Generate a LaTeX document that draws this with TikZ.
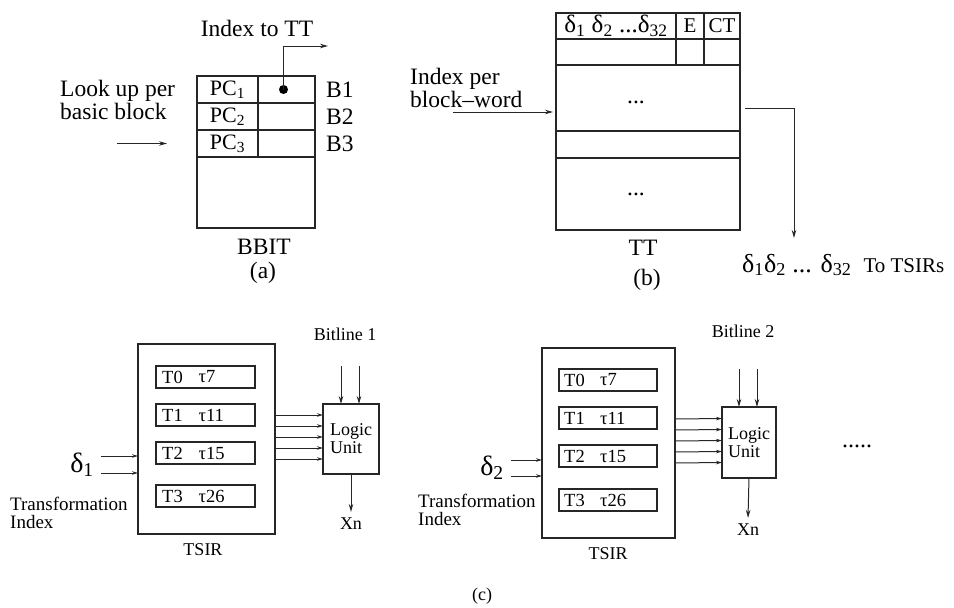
\documentclass[tikz,border=0pt]{standalone}
\usepackage{fontspec}
\setmainfont{Liberation Serif}
\usetikzlibrary{positioning, arrows.meta}

\newcommand{\fsz}[1]{\fontsize{#1}{#1}\selectfont}
\newcommand{\dsub}[1]{δ\textsubscript{#1}}

\begin{document}
\begin{tikzpicture}[x=1pt, y=-1pt,
    cell/.style={draw=black!85, line width=1.2pt, inner sep=0pt, outer sep=0pt},
    txt/.style={inner sep=0pt, font=\fsz{23.5}},
    lab/.style={inner sep=0pt, font=\fsz{18}},
    entry/.style={cell, minimum width=99pt, minimum height=22pt},
    wire/.style={draw=black!85, line width=1pt, -{Stealth[length=8pt, width=4.5pt]}},
    bus/.style={draw=black!85, line width=1pt, -{Stealth[length=6pt, width=3.5pt]}}]
  \useasboundingbox (0,0) rectangle (954,608);

  % (a) BBIT
  \node[cell, minimum width=118pt, minimum height=152pt] (bbit) at (256,152) {};
  \node[cell, minimum width=61pt, minimum height=27pt, font=\fsz{22}] (pc1) at (227.5,89.5) {PC\textsubscript{1}};
  \node[cell, minimum width=57pt, minimum height=27pt, right=0pt of pc1] (ptr1) {};
  \node[cell, minimum width=61pt, minimum height=27pt, font=\fsz{22}, below=0pt of pc1] (pc2) {PC\textsubscript{2}};
  \node[cell, minimum width=57pt, minimum height=27pt, right=0pt of pc2] (ptr2) {};
  \node[cell, minimum width=61pt, minimum height=27pt, font=\fsz{22}, below=0pt of pc2] (pc3) {PC\textsubscript{3}};
  \node[cell, minimum width=57pt, minimum height=27pt, right=0pt of pc3] (ptr3) {};
  \node[circle, fill=black, inner sep=0pt, minimum size=9pt] (dot) at ([xshift=-3pt]ptr1.center) {};
  \coordinate (totable) at (328,46);
  \draw[wire] (dot.center) |- (totable);
  \node[txt] (idxtt) at (257,28) {Index to TT};
  \node[txt, anchor=west] (b1) at ([xshift=11pt]ptr1.east) {B1};
  \node[txt, anchor=west] (b2) at ([xshift=11pt]ptr2.east) {B2};
  \node[txt, anchor=west] (b3) at ([xshift=11pt]ptr3.east) {B3};
  \node[txt, align=left, anchor=west, font=\fontsize{23.5}{21}\selectfont] (lookup) at (60,100) {Look up per\\basic block};
  \draw[wire] ([xshift=-80pt]pc3.west) -- ([xshift=-30pt]pc3.west);
  \node[txt] (bbitlbl) at (264,247) {BBIT};
  \node[txt] (capa) at (263,273) {(a)};

  % (b) TT
  \node[cell, minimum width=120pt, minimum height=26pt, font=\fsz{25}] (dh) at (616,26) {\dsub{1} \dsub{2} ...\dsub{32}};
  \node[cell, minimum width=28pt, minimum height=26pt, font=\fsz{21}, right=0pt of dh] (eh) {E};
  \node[cell, minimum width=36pt, minimum height=26pt, font=\fsz{21}, right=0pt of eh] (cth) {CT};
  \node[cell, minimum width=120pt, minimum height=26pt, below=0pt of dh] (d2) {};
  \node[cell, minimum width=28pt, minimum height=26pt, below=0pt of eh] (e2) {};
  \node[cell, minimum width=36pt, minimum height=26pt, below=0pt of cth] (ct2) {};
  \node[cell, minimum width=184pt, minimum height=66pt, anchor=north west] (w1) at (d2.south west) {};
  \node[cell, minimum width=184pt, minimum height=27pt, below=0pt of w1] (w2) {};
  \node[cell, minimum width=184pt, minimum height=72pt, below=0pt of w2] (w3) {};
  \node[txt] (dots1) at ([xshift=-12pt, yshift=-4pt]w1.center) {...};
  \node[txt] (dots2) at ([xshift=-12pt]w3.center) {...};
  \node[txt, align=left, anchor=west, font=\fontsize{23.5}{21}\selectfont] (perword) at (410,88) {Index per\\block–word};
  \draw[wire] ([xshift=-103pt, yshift=-14pt]w1.west) -- ([xshift=-3pt, yshift=-14pt]w1.west);
  \coordinate (tsirs) at (794,238);
  \draw[wire] ([xshift=5pt, yshift=-10pt]w1.east) -| (tsirs);
  \node[anchor=west, inner sep=0pt, font=\fsz{26}] (dout) at (742,265) {\dsub{1}\dsub{2} ... \dsub{32}\hspace{12pt}{\fsz{21}To TSIRs}};
  \node[txt] (ttlbl) at (643,248) {TT};
  \node[txt] (capb) at (647,280) {(b)};

  % (c) first TSIR
  \node[cell, minimum width=137pt, minimum height=190pt] (tsir1) at (206.5,439) {};
  \foreach \t/\v/\y in {0/7/377, 1/11/415, 2/15/453, 3/26/496} {
    \node[entry] (ra\t) at (205.5,\y) {};
    \node[lab, anchor=west, font=\fsz{18.5}] (ta\t) at ([xshift=6pt]ra\t.west) {T\t};
    \node[lab, anchor=west, font=\fsz{18.5}] (va\t) at ([xshift=-7pt]ra\t.center) {τ\v};
  }
  \node[cell, minimum width=56pt, minimum height=70pt, align=left, font=\fontsize{18}{18}\selectfont] (lu1) at (351,439) {Logic\\Unit};
  \foreach \o in {24,13,2,-9,-20}
    \draw[bus] ([yshift=\o pt]tsir1.east) -- ([yshift=\o pt]lu1.west);
  \coordinate (bla) at ([xshift=-10pt, yshift=38pt]lu1.north);
  \coordinate (blb) at ([xshift=8pt, yshift=38pt]lu1.north);
  \draw[wire] (bla) -- (bla |- lu1.north);
  \draw[wire] (blb) -- (blb |- lu1.north);
  \node[lab] (bit1) at (345,334) {Bitline 1};
  \node[lab] (xn1) at (351,524) {Xn};
  \draw[wire] (lu1.south) -- ([yshift=6pt]xn1.north);
  \node[lab] (tsirlbl1) at (203,550) {TSIR};
  \node[inner sep=0pt, font=\fsz{28}] (d1) at (82,465) {\dsub{1}};
  \coordinate (in1) at (101,465);
  \draw[bus] ([yshift=9pt]in1) -- ([yshift=9pt]in1 -| tsir1.west);
  \draw[bus] ([yshift=-8pt]in1) -- ([yshift=-8pt]in1 -| tsir1.west);
  \node[lab, align=left, anchor=west, font=\fontsize{19}{18}\selectfont] (ti1) at (10,513) {Transformation\\Index};

  % (c) second TSIR
  \node[cell, minimum width=133pt, minimum height=190pt] (tsir2) at (608.5,443) {};
  \foreach \t/\v/\y in {0/7/380, 1/11/418, 2/15/456, 3/26/500} {
    \node[entry, minimum width=98pt] (rb\t) at (608,\y) {};
    \node[lab, anchor=west, font=\fsz{18.5}] (tb\t) at ([xshift=5pt]rb\t.west) {T\t};
    \node[lab, anchor=west, font=\fsz{18.5}] (vb\t) at ([xshift=-8pt]rb\t.center) {τ\v};
  }
  \node[cell, minimum width=54pt, minimum height=71pt, align=left, font=\fontsize{18}{18}\selectfont] (lu2) at (749,442.5) {Logic\\Unit};
  \foreach \o in {24,13,2,-9,-20}
    \draw[bus] ([yshift=\o pt]tsir2.east) -- ([yshift=\o pt]lu2.west);
  \coordinate (blc) at ([xshift=-10pt, yshift=38pt]lu2.north);
  \coordinate (bld) at ([xshift=8pt, yshift=38pt]lu2.north);
  \draw[wire] (blc) -- (blc |- lu2.north);
  \draw[wire] (bld) -- (bld |- lu2.north);
  \node[lab] (bit2) at (743,331) {Bitline 2};
  \node[lab] (xn2) at (748,530) {Xn};
  \draw[wire] (lu2.south) -- ([yshift=6pt]xn2.north);
  \node[lab] (tsirlbl2) at (608,554) {TSIR};
  \node[inner sep=0pt, font=\fsz{28}] (d2in) at (492,468) {\dsub{2}};
  \coordinate (in2) at (511,468);
  \draw[bus] ([yshift=8pt]in2) -- ([yshift=8pt]in2 -| tsir2.west);
  \draw[bus] ([yshift=-8pt]in2) -- ([yshift=-8pt]in2 -| tsir2.west);
  \node[lab, align=left, anchor=west, font=\fontsize{19}{18}\selectfont] (ti2) at (418,510) {Transformation\\Index};
  \node[inner sep=0pt, font=\fsz{24}] (more) at (857,446) {.....};
  \node[lab] (capc) at (482,596) {(c)};
\end{tikzpicture}
\end{document}
